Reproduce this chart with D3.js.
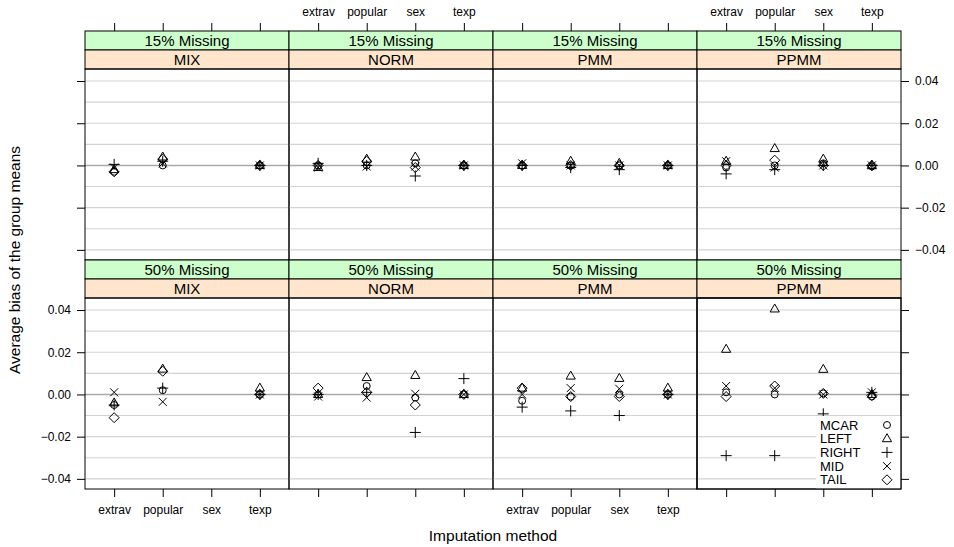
<!DOCTYPE html>
<html>
<head>
<meta charset="utf-8">
<script src="https://cdn.jsdelivr.net/npm/d3@7"></script>
<style>
  body { margin: 0; background: #fff; }
  text { font-family: "Liberation Sans", Arial, sans-serif; }
</style>
</head>
<body>
<svg id="chart" width="954" height="547"></svg>
<script>
// data, one row per method (MIX, NORM, PMM, PPMM), columns = variables
var variables = ["extrav", "popular", "sex", "texp"];
var methods = ["MIX", "NORM", "PMM", "PPMM"];
var missing = ["15% Missing", "50% Missing"];
var mechanisms = ["MCAR", "LEFT", "RIGHT", "MID", "TAIL"];
var yTicks = [-0.04, -0.02, 0, 0.02, 0.04];
var gridLines = [-0.04, -0.03, -0.02, -0.01, 0, 0.01, 0.02, 0.03, 0.04];

var mcar15  = [[-0.003, 0.000, null, 0.000], [0.000, 0.000, 0.001, 0.000], [0.000, 0.000, 0.000, 0.000], [-0.001, 0.000, 0.001, -0.0005]];
var left15  = [[-0.002, 0.004, null, 0.000], [-0.001, 0.003, 0.004, 0.000], [0.000, 0.002, 0.001, 0.000], [0.002, 0.008, 0.003, 0.000]];
var right15 = [[0.0005, 0.002, null, 0.000], [0.001, 0.000, -0.005, 0.000], [0.000, -0.001, -0.002, 0.000], [-0.004, -0.002, 0.000, 0.000]];
var mid15   = [[-0.001, 0.001, null, 0.000], [-0.001, -0.0005, -0.0005, 0.000], [0.001, 0.000, 0.000, 0.000], [0.002, -0.001, 0.000, 0.000]];
var tail15  = [[-0.003, 0.003, null, 0.000], [0.000, 0.002, -0.001, 0.000], [0.000, 0.000, 0.000, 0.000], [0.000, 0.0025, 0.000, 0.000]];

var mcar50  = [[-0.005, 0.002, null, 0.000], [0.000, 0.004, -0.0015, 0.000], [-0.003, -0.001, 0.000, 0.000], [0.001, 0.000, 0.0005, -0.001]];
var left50  = [[-0.004, 0.012, null, 0.003], [0.000, 0.008, 0.009, 0.000], [0.003, 0.0087, 0.0076, 0.003], [0.0214, 0.0405, 0.0119, 0.000]];
var right50 = [[-0.005, 0.003, null, 0.000], [0.000, 0.001, -0.018, 0.0075], [-0.006, -0.0078, -0.010, 0.000], [-0.029, -0.029, -0.0092, 0.001]];
var mid50   = [[0.001, -0.0035, null, 0.000], [-0.001, -0.0015, 0.0003, 0.000], [0.000, 0.003, 0.0027, 0.000], [0.004, 0.003, 0.000, 0.001]];
var tail50  = [[-0.011, 0.011, null, 0.000], [0.003, 0.001, -0.005, 0.000], [0.003, -0.001, -0.001, 0.000], [-0.001, 0.004, 0.0005, -0.0005]];

var series = [
  [mcar15, left15, right15, mid15, tail15],
  [mcar50, left50, right50, mid50, tail50]
];

var svg = d3.select("#chart");

var left = 85, colW = 204, stripH = 19, bodyH = 191;
var rowTop = [31, 260];

// lattice style symbols: circle, triangle, plus, cross, diamond
var symbolPaths = {
  MCAR: function() { return d3.symbol().type(d3.symbolCircle).size(38)(); },
  LEFT: function() { return "M0,-5L4.6,3L-4.6,3Z"; },
  RIGHT: function() { return "M-5.5,0H5.5M0,-5.5V5.5"; },
  MID: function() { return "M-4,-4L4,4M-4,4L4,-4"; },
  TAIL: function() { return "M0,-5L5,0L0,5L-5,0Z"; }
};

missing.forEach(function(miss, r) {
  var top = rowTop[r];
  var bodyTop = top + 2 * stripH;
  var yScale = d3.scaleLinear().domain([-0.0448, 0.0457]).range([bodyTop + bodyH, bodyTop]);

  methods.forEach(function(method, c) {
    var x0 = left + c * colW;
    var xScale = d3.scalePoint().domain(variables).range([x0, x0 + colW]).padding(0.6);
    var g = svg.append("g");

    // strips
    g.append("rect").attr("x", x0).attr("y", top).attr("width", colW).attr("height", stripH)
      .attr("fill", "#ccffcc").attr("stroke", "#000").attr("stroke-width", 1);
    g.append("rect").attr("x", x0).attr("y", top + stripH).attr("width", colW).attr("height", stripH)
      .attr("fill", "#ffe5cc").attr("stroke", "#000").attr("stroke-width", 1);
    g.append("text").attr("x", x0 + colW / 2).attr("y", top + stripH / 2 + 5)
      .attr("text-anchor", "middle").attr("font-size", 15).text(miss);
    g.append("text").attr("x", x0 + colW / 2).attr("y", top + stripH * 1.5 + 5)
      .attr("text-anchor", "middle").attr("font-size", 15).text(method);

    // grid
    g.selectAll(".grid").data(gridLines).enter().append("line")
      .attr("x1", x0).attr("x2", x0 + colW)
      .attr("y1", function(d) { return yScale(d); }).attr("y2", function(d) { return yScale(d); })
      .attr("stroke", function(d) { return d === 0 ? "#a8a8a8" : "#d3d3d3"; })
      .attr("stroke-width", function(d) { return d === 0 ? 1.6 : 1.1; });

    // points
    mechanisms.forEach(function(mech, m) {
      var vals = series[r][m][c];
      g.selectAll(".pt" + m).data(variables.map(function(v, i) { return { v: v, val: vals[i] }; })
        .filter(function(d) { return d.val !== null; }))
        .enter().append("path")
        .attr("transform", function(d) { return "translate(" + xScale(d.v) + "," + yScale(d.val) + ")"; })
        .attr("d", symbolPaths[mech]())
        .attr("fill", "none").attr("stroke", "#000").attr("stroke-width", 1);
    });

    // x ticks, labels alternate between bottom and top
    if (r === 1) {
      var bx = d3.axisBottom(xScale).tickSize(8).tickPadding(8);
      if (c % 2 === 1) bx.tickFormat("");
      var ax = g.append("g").attr("transform", "translate(0," + (bodyTop + bodyH) + ")").call(bx);
      ax.select(".domain").remove();
      ax.selectAll("text").attr("font-size", 12).attr("font-family", "Liberation Sans, Arial, sans-serif");
    } else {
      var tx = d3.axisTop(xScale).tickSize(8).tickPadding(7);
      if (c % 2 === 0) tx.tickFormat("");
      var at = g.append("g").attr("transform", "translate(0," + top + ")").call(tx);
      at.select(".domain").remove();
      at.selectAll("text").attr("font-size", 12).attr("font-family", "Liberation Sans, Arial, sans-serif");
    }

    // panel border
    g.append("rect").attr("x", x0).attr("y", bodyTop).attr("width", colW).attr("height", bodyH)
      .attr("fill", "none").attr("stroke", "#000").attr("stroke-width", 1);
  });

  // y axes, labels alternate between left and right
  var ly = d3.axisLeft(yScale).tickValues(yTicks).tickSize(8).tickPadding(6).tickFormat(d3.format(".2f"));
  if (r === 0) ly.tickFormat("");
  var al = svg.append("g").attr("transform", "translate(" + left + ",0)").call(ly);
  al.select(".domain").remove();
  al.selectAll("text").attr("font-size", 12).attr("font-family", "Liberation Sans, Arial, sans-serif");

  var ry = d3.axisRight(yScale).tickValues(yTicks).tickSize(8).tickPadding(6).tickFormat(d3.format(".2f"));
  if (r === 1) ry.tickFormat("");
  var ar = svg.append("g").attr("transform", "translate(" + (left + 4 * colW) + ",0)").call(ry);
  ar.select(".domain").remove();
  ar.selectAll("text").attr("font-size", 12).attr("font-family", "Liberation Sans, Arial, sans-serif");
});

// legend in the last panel
var lg = svg.append("g");
var lgX = 816, lgY = 416;
lg.append("rect").attr("x", lgX).attr("y", lgY).attr("width", left + 4 * colW - lgX - 0.5).attr("height", 72.5)
  .attr("fill", "#fff");
mechanisms.forEach(function(mech, i) {
  var yy = lgY + 9 + i * 13.7;
  lg.append("text").attr("x", lgX + 4).attr("y", yy + 4.5).attr("font-size", 13).text(mech);
  lg.append("path").attr("transform", "translate(" + 887 + "," + yy + ")")
    .attr("d", symbolPaths[mech]()).attr("fill", "none").attr("stroke", "#000");
});
svg.append("rect").attr("x", left + 3 * colW).attr("y", rowTop[1] + 2 * stripH).attr("width", colW).attr("height", bodyH)
  .attr("fill", "none").attr("stroke", "#000");

// axis titles
svg.append("text").attr("x", left + 2 * colW).attr("y", 541).attr("text-anchor", "middle")
  .attr("font-size", 15.5).text("Imputation method");
svg.append("text").attr("transform", "translate(20," + 260 + ") rotate(-90)").attr("text-anchor", "middle")
  .attr("font-size", 15.5).text("Average bias of the group means");
</script>
</body>
</html>
